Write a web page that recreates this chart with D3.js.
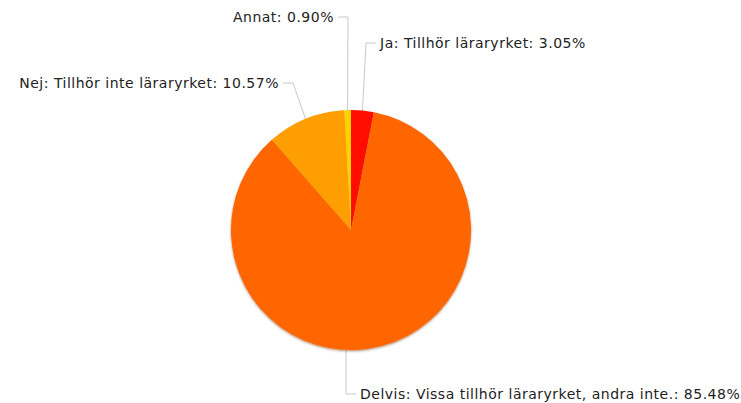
<!DOCTYPE html>
<html>
<head>
<meta charset="utf-8">
<script src="https://cdn.jsdelivr.net/npm/d3@7"></script>
<style>
html,body{margin:0;padding:0;background:#fff;}
svg{display:block;}
text{font-family:"DejaVu Sans",Verdana,sans-serif;font-size:14px;letter-spacing:0.5px;fill:#222;}
</style>
</head>
<body>
<svg id="chart" width="741" height="403"></svg>
<script>
// Data
const categories = ["Ja: Tillhör läraryrket", "Delvis: Vissa tillhör läraryrket, andra inte.", "Nej: Tillhör inte läraryrket", "Annat"];
const values = [3.05, 85.48, 10.57, 0.90];
const colors = ["#FF0F00", "#FF6600", "#FF9E01", "#FCD202"];

// Label layout (elbow offsets from pie centre, side of the text)
const labelElbow = [[15, -187], [-5, 164], [-58, -147], [-3, -213]];
const labelSide = [1, 1, -1, -1];
const labelStartInside = [false, true, false, false];

const svg = d3.select("#chart");
const cx = 351, cy = 230, R = 120;

const pie = d3.pie().sort(null).value(d => d)(values);
const arc = d3.arc().innerRadius(0).outerRadius(R);

const defs = svg.append("defs");
const f = defs.append("filter").attr("id", "sh").attr("x", "-10%").attr("y", "-10%").attr("width", "120%").attr("height", "120%");
f.append("feDropShadow").attr("dx", 0).attr("dy", 1.2).attr("stdDeviation", 0.9)
  .attr("flood-color", "#7a3000").attr("flood-opacity", 0.55);

const g = svg.append("g").attr("transform", `translate(${cx},${cy})`);

// connector lines (under pie)
const lines = g.append("g");
const labels = g.append("g");
pie.forEach((p, i) => {
  const mid = (p.startAngle + p.endAngle) / 2;
  const ex = labelElbow[i][0], ey = labelElbow[i][1];
  let sx, sy;
  if (labelStartInside[i]) { sx = ex; sy = 0; }
  else { sx = R * Math.sin(mid); sy = -R * Math.cos(mid); }
  const hx = ex + labelSide[i] * 10;
  lines.append("path")
    .attr("d", d3.line()([[sx, sy], [ex, ey], [hx, ey]]))
    .attr("fill", "none").attr("stroke", "#c8c8c8").attr("stroke-width", 1);
  labels.append("text")
    .attr("x", hx + labelSide[i] * 4)
    .attr("y", ey)
    .attr("dy", "0.38em")
    .attr("text-anchor", labelSide[i] > 0 ? "start" : "end")
    .text(`${categories[i]}: ${values[i].toFixed(2)}%`);
});

const slices = g.append("g").attr("filter", "url(#sh)");
slices.selectAll("path").data(pie).join("path")
  .attr("d", arc)
  .attr("fill", (d, i) => colors[i]);
labels.raise();
</script>
</body>
</html>
